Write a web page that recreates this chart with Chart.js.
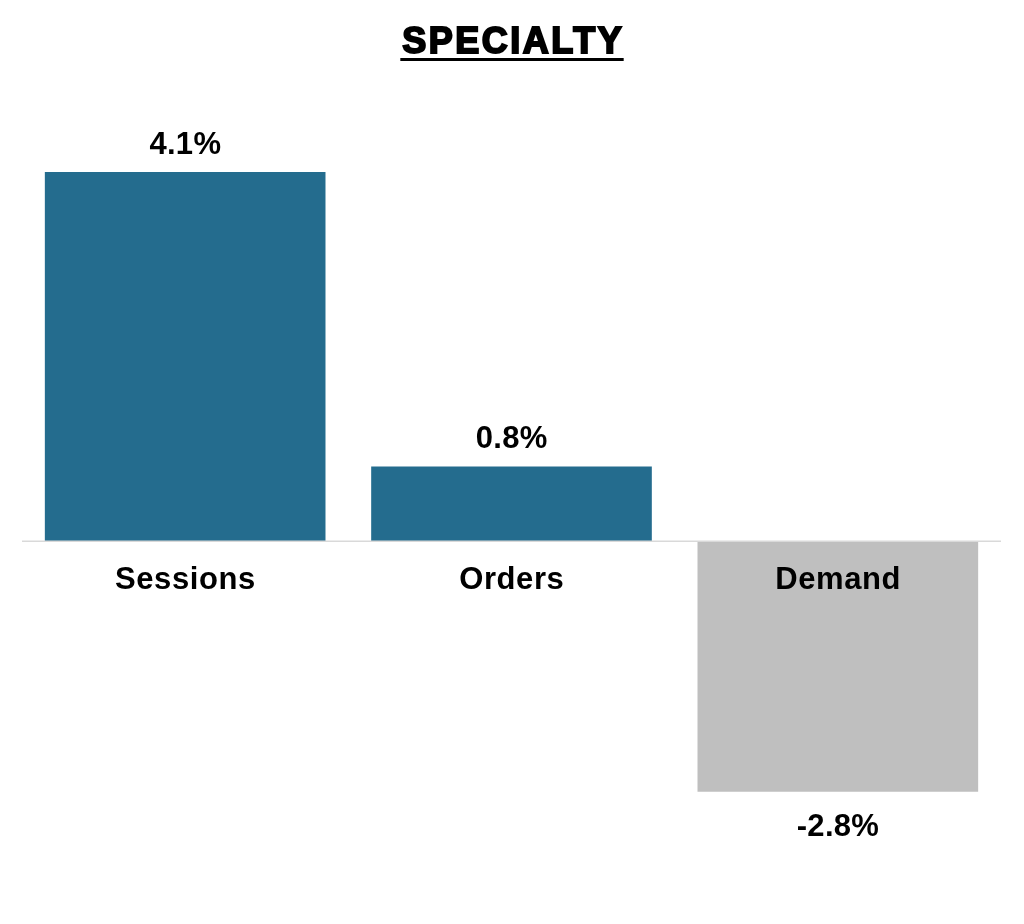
<!DOCTYPE html>
<html>
<head>
<meta charset="utf-8">
<script src="https://cdn.jsdelivr.net/npm/chart.js@4.4.1/dist/chart.umd.min.js"></script>
<style>
html,body{margin:0;padding:0;background:#fff;}
#wrap{width:1024px;height:924px;}
</style>
</head>
<body>
<div id="wrap"><canvas id="c" width="1024" height="924"></canvas></div>
<script>
const chartTitle = 'SPECIALTY';
const categories = ['Sessions', 'Orders', 'Demand'];
const values = [4.1, 0.83, -2.78];
const barColors = ['#246C8E', '#246C8E', '#BFBFBF'];

const FONT = '"Liberation Sans", Arial, sans-serif';

function drawCentered(ctx, text, cx, y, spacing) {
  ctx.letterSpacing = spacing + 'px';
  const w = ctx.measureText(text).width - spacing;
  ctx.textAlign = 'left';
  ctx.fillText(text, cx - w / 2, y);
  return w;
}

const annotatePlugin = {
  id: 'annotate',
  afterDatasetsDraw(chart) {
    const ctx = chart.ctx;
    const x = chart.scales.x, y = chart.scales.y;
    const zeroY = y.getPixelForValue(0);
    ctx.save();
    ctx.strokeStyle = '#D9D9D9';
    ctx.lineWidth = 1.5;
    ctx.beginPath();
    ctx.moveTo(chart.chartArea.left, zeroY);
    ctx.lineTo(chart.chartArea.right, zeroY);
    ctx.stroke();
    ctx.fillStyle = '#000';
    ctx.textBaseline = 'middle';
    ctx.font = 'bold 31px ' + FONT;
    categories.forEach((c, i) => {
      drawCentered(ctx, c, x.getPixelForValue(i), zeroY + 39, 0.6);
    });
    const meta = chart.getDatasetMeta(0);
    ctx.font = 'bold 31px ' + FONT;
    values.forEach((v, i) => {
      const bar = meta.data[i];
      const label = v.toFixed(1) + '%';
      const ly = v >= 0 ? bar.y - 27 : bar.y + 36;
      drawCentered(ctx, label, bar.x, ly, 0.3);
    });
    // title
    ctx.font = 'bold 36px ' + FONT;
    const cx = 512;
    ctx.textBaseline = 'alphabetic';
    ctx.lineWidth = 2;
    ctx.strokeStyle = '#000';
    ctx.letterSpacing = '2.5px';
    const w = ctx.measureText(chartTitle).width - 2.5;
    ctx.textAlign = 'left';
    ctx.fillText(chartTitle, cx - w / 2, 53);
    ctx.strokeText(chartTitle, cx - w / 2, 53);
    ctx.fillRect(cx - w / 2 - 2, 58, w + 4, 3);
    ctx.restore();
  }
};

new Chart(document.getElementById('c'), {
  type: 'bar',
  data: {
    labels: categories,
    datasets: [{
      data: values,
      backgroundColor: barColors,
      borderWidth: 0,
      categoryPercentage: 0.86,
      barPercentage: 1.0
    }]
  },
  options: {
    responsive: false,
    animation: false,
    layout: { padding: { left: 22, right: 23, top: 100, bottom: 54 } },
    plugins: { legend: { display: false }, tooltip: { enabled: false }, title: { display: false } },
    scales: {
      x: { display: false },
      y: { display: false, min: -3.65, max: 4.9 }
    }
  },
  plugins: [annotatePlugin]
});
</script>
</body>
</html>
